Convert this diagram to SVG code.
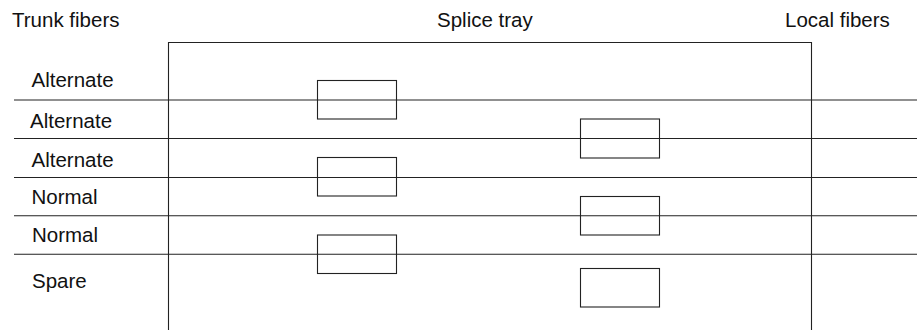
<svg xmlns="http://www.w3.org/2000/svg" width="917" height="330" viewBox="0 0 917 330">
  <style>
    .lbl { font-family: "Liberation Sans", Arial, sans-serif; font-size: 20.5px; fill: #111; }
    .box { fill: none; stroke: #222; stroke-width: 1.1; }
    .fiber { stroke: #222; stroke-width: 1.1; fill: none; }
  </style>
  <rect width="917" height="330" fill="#fff"/>
  <g id="headers">
    <text class="lbl" x="12" y="27">Trunk fibers</text>
    <text class="lbl" x="437" y="27">Splice tray</text>
    <text class="lbl" x="785" y="27">Local fibers</text>
  </g>
  <g id="tray">
    <path class="box" d="M168.5 330 V42.5 H811.5 V330"/>
  </g>
  <g id="connectors">
    <line class="fiber" x1="14" y1="100" x2="917" y2="100"/>
    <line class="fiber" x1="14" y1="138.5" x2="917" y2="138.5"/>
    <line class="fiber" x1="14" y1="177.5" x2="917" y2="177.5"/>
    <line class="fiber" x1="14" y1="215.7" x2="917" y2="215.7"/>
    <line class="fiber" x1="14" y1="254.3" x2="917" y2="254.3"/>
  </g>
  <g id="fiber-labels">
    <text class="lbl" x="31.5" y="87">Alternate</text>
    <text class="lbl" x="30" y="128">Alternate</text>
    <text class="lbl" x="31.5" y="166.5">Alternate</text>
    <text class="lbl" x="31.5" y="204">Normal</text>
    <text class="lbl" x="32" y="241.5">Normal</text>
    <text class="lbl" x="32" y="288">Spare</text>
  </g>
  <g id="splice-1"><rect class="box" x="317.5" y="80.5" width="79" height="38.5"/></g>
  <g id="splice-2"><rect class="box" x="317.5" y="157.5" width="79" height="38.5"/></g>
  <g id="splice-3"><rect class="box" x="317.5" y="235" width="79" height="38.5"/></g>
  <g id="splice-4"><rect class="box" x="580.5" y="119" width="79" height="39"/></g>
  <g id="splice-5"><rect class="box" x="580.5" y="196.5" width="79" height="38.5"/></g>
  <g id="splice-6"><rect class="box" x="580.5" y="268.5" width="79" height="38.5"/></g>
</svg>
